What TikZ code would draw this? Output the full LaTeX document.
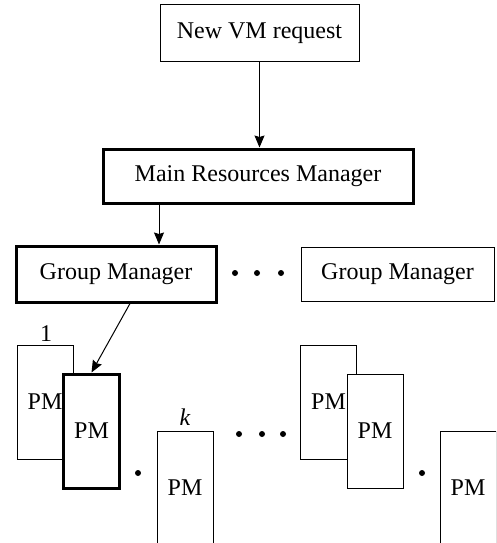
\documentclass[tikz,border=0pt]{standalone}
\usepackage{fontspec}
\setmainfont{Liberation Serif}
\usetikzlibrary{arrows.meta}
\begin{document}
\begin{tikzpicture}[x=1pt,y=-1pt,
  every node/.style={font=\fontsize{24}{28}\selectfont, inner sep=0pt},
  thinbox/.style={draw, line width=1pt, fill=white},
  thickbox/.style={draw, line width=3pt, fill=white},
  pmbox/.style={minimum width=56pt, minimum height=114pt},
  arr/.style={line width=1pt, -{Stealth[length=12pt,width=10pt,inset=1.5pt]}},
  blackdot/.style={fill=black, draw=none, circle, minimum size=6pt}]
\useasboundingbox (0,0) rectangle (496,543);
\clip (0,0) rectangle (496,543);
% top boxes
\node[thinbox, minimum width=199pt, minimum height=57pt] (req) at (259.5,33.5) {New VM request};
\node[thickbox, minimum width=310pt, minimum height=54pt] (mrm) at (258,176) {Main Resources Manager};
\node[thickbox, minimum width=200pt, minimum height=56pt] (gm1) at (116,274) {Group Manager};
\node[thinbox, minimum width=193pt, minimum height=54pt] (gm2) at (397.5,274) {Group Manager};
% dots between group managers
\node[blackdot] (d1) at (235,273) {};
\node[blackdot] (d2) at (257,273) {};
\node[blackdot] (d3) at (281,273) {};
% PM boxes group 1
\node[thinbox, pmbox] (pm1b) at (45,402) {PM};
\node[thickbox, pmbox] (pm1f) at (91.5,431) {PM};
\node[thinbox, pmbox] (pm1k) at (185,488) {PM};
\node (l1) at (46,334) {1};
\node (lk) at (185,417) {\itshape k};
\node[blackdot] (d4) at (138,473) {};
% dots between groups
\node[blackdot] (d5) at (239,434) {};
\node[blackdot] (d6) at (262,434) {};
\node[blackdot] (d7) at (283,434) {};
% PM boxes group 2
\node[thinbox, pmbox] (pm2b) at (328.5,402) {PM};
\node[thinbox, pmbox] (pm2f) at (375,431) {PM};
\node[thinbox, pmbox] (pm2k) at (468,488) {PM};
\node[blackdot] (d8) at (422,473) {};
% connectors
\coordinate (c1) at (159,0);
\coordinate (c2) at (130,0);
\draw[arr] (req.south) -- (req.south |- mrm.north);
\draw[arr] (mrm.south -| c1) -- (gm1.north -| c1);
\draw[arr] (gm1.south -| c2) -- (pm1f.north);
\end{tikzpicture}
\end{document}
